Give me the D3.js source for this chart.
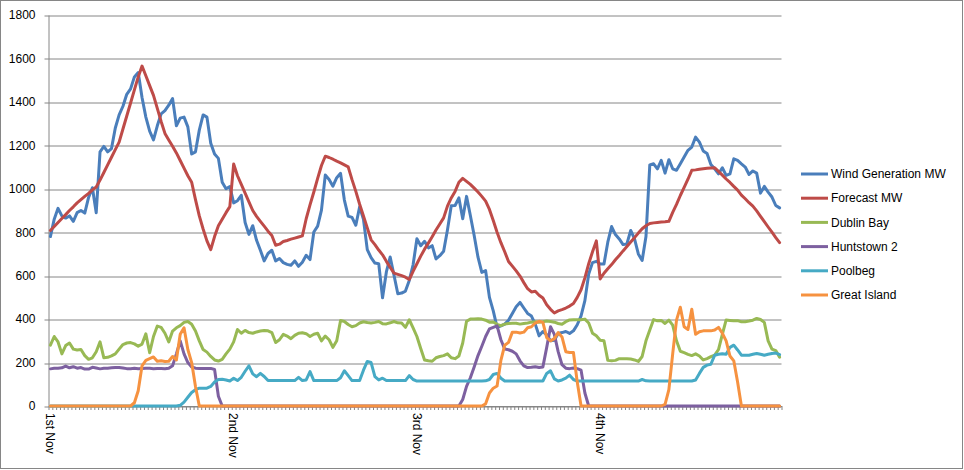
<!DOCTYPE html>
<html>
<head>
<meta charset="utf-8">
<script src="https://cdn.jsdelivr.net/npm/d3@7"></script>
<style>
  body { margin: 0; background: #fff; }
  .chart-container text { font-family: 'Liberation Sans', Arial, sans-serif; font-size: 12px; fill: #000; }
</style>
</head>
<body>
<div class="chart-container"></div>
<script>
// Half-hourly readings, 1st Nov 00:00 to 4th Nov 23:30 (48 slots per day)
const slotsPerDay = 48;
const dayLabels = ['1st Nov', '2nd Nov', '3rd Nov', '4th Nov'];
const yTicks = [0, 200, 400, 600, 800, 1000, 1200, 1400, 1600, 1800];
const seriesNames = ['Wind Generation MW', 'Forecast MW', 'Dublin Bay', 'Huntstown 2', 'Poolbeg', 'Great Island'];

const windGeneration = [
  780, 860, 910, 875, 865, 875, 850, 890, 900, 888, 960, 1005,
  890, 1170, 1195, 1170, 1185, 1280, 1340, 1380, 1435, 1460, 1515, 1535,
  1420, 1330, 1265, 1225, 1290, 1345, 1360, 1385, 1415, 1290, 1325, 1330,
  1285, 1160, 1170, 1270, 1340, 1330, 1210, 1160, 1140, 1030, 1000, 1010,
  935, 945, 970, 845, 790, 830, 763, 717, 668, 702, 717, 668,
  679, 660, 652, 648, 668, 643, 662, 694, 674, 801, 828, 902,
  1063, 1043, 1012, 1051, 1071, 948, 874, 868, 832, 917, 860, 720,
  683, 658, 655, 498, 617, 686, 602, 517, 520, 529, 578, 650,
  770, 738, 758, 728, 738, 677, 692, 712, 810, 922, 923, 958,
  862, 965, 877, 785, 685, 615, 623, 500, 438, 362, 369, 377,
  395, 426, 457, 477, 451, 426, 414, 377, 323, 343, 328, 300,
  303, 334, 338, 343, 334, 346, 374, 415, 485, 608, 660, 666,
  654, 654, 754, 826, 789, 769, 743, 746, 808, 769, 700, 670,
  780, 1110, 1115, 1092, 1131, 1072, 1134, 1092, 1085, 1115, 1146, 1177,
  1192, 1238, 1215, 1174, 1162, 1112, 1092, 1069, 1097, 1062, 1069, 1138,
  1131, 1115, 1100, 1066, 1082, 1072, 980, 1011, 985, 962, 923, 912
];

const forecastMW = [
  808, 826, 845, 863, 881, 900, 917, 935, 950, 965, 979, 995,
  1008, 1040, 1075, 1110, 1145, 1180, 1215, 1275, 1335, 1395, 1455, 1515,
  1565, 1520, 1475, 1430, 1370, 1310, 1255, 1225, 1196, 1165, 1130, 1095,
  1060, 1030, 950, 875, 815, 760, 720, 780, 830, 860, 890, 918,
  1114, 1060, 1020, 980, 940, 900, 873, 850, 828, 805, 785, 740,
  745, 757, 762, 768, 773, 778, 783, 862, 926, 985, 1048, 1107,
  1150, 1144, 1136, 1127, 1119, 1110, 1101, 1042, 988, 929, 875, 820,
  765, 743, 718, 696, 666, 638, 612, 606, 600, 593, 582, 620,
  655, 690, 722, 750, 779, 810, 838, 866, 920, 958, 988, 1030,
  1048, 1034, 1020, 1003, 985, 965, 943, 905, 854, 800, 752, 710,
  665, 644, 622, 598, 568, 540, 525, 528, 510, 497, 466, 445,
  428, 438, 444, 451, 460, 472, 500, 535, 590, 655, 710, 760,
  585, 611, 632, 651, 673, 693, 714, 734, 755, 775, 796, 816,
  830, 840, 843, 845, 847, 848, 850, 891, 928, 969, 1006, 1044,
  1085, 1087, 1090, 1092, 1094, 1096, 1097, 1080, 1063, 1045, 1029, 1011,
  994, 971, 954, 936, 920, 898, 873, 849, 824, 800, 775, 752
];

const dublinBay = [
  280, 320, 295, 240, 278, 290, 262, 258, 260, 232, 215, 222,
  250, 295, 222, 224, 231, 240, 262, 283, 290, 292, 286, 275,
  285, 332, 245, 320, 368, 362, 335, 295, 345, 360, 370, 385,
  389, 376, 345, 300, 260, 248, 228, 212, 207, 215, 240, 262,
  295, 352, 335, 348, 338, 335, 341, 345, 348, 346, 338, 292,
  305, 330, 322, 310, 325, 335, 337, 333, 320, 330, 335, 300,
  322, 305, 270, 300, 394, 389, 375, 365, 370, 382, 388, 384,
  382, 385, 389, 379, 378, 383, 389, 383, 382, 362, 397, 360,
  320, 265, 212, 208, 206, 222, 228, 232, 240, 222, 218, 230,
  290, 390, 400, 400, 402, 400, 395, 386, 387, 376, 370, 377,
  380, 381, 381, 377, 380, 382, 386, 388, 386, 388, 391, 389,
  386, 380, 376, 388, 396, 397, 397, 397, 400, 382, 335, 323,
  303, 300, 210, 208, 210, 218, 218, 218, 216, 212, 205, 228,
  300, 350, 398, 392, 394, 380, 395, 372, 300, 252, 246, 238,
  232, 240, 230, 212, 218, 227, 234, 260, 330, 396, 394, 392,
  393, 388, 388, 391, 395, 403, 398, 385, 300, 262, 255, 225
];

const huntstown2 = [
  171, 174, 174, 176, 184, 176, 181, 174, 177, 170, 170, 178,
  175, 171, 174, 174, 176, 177, 177, 175, 172, 172, 174, 172,
  173, 174, 174, 172, 173, 173, 172, 174, 185, 240, 300, 240,
  200, 180, 174, 173, 173, 173, 173, 168, 45, 0, 0, 0,
  0, 0, 0, 0, 0, 0, 0, 0, 0, 0, 0, 0,
  0, 0, 0, 0, 0, 0, 0, 0, 0, 0, 0, 0,
  0, 0, 0, 0, 0, 0, 0, 0, 0, 0, 0, 0,
  0, 0, 0, 0, 0, 0, 0, 0, 0, 0, 0, 0,
  0, 0, 0, 0, 0, 0, 0, 0, 0, 0, 0, 0,
  30, 90, 130, 180, 232, 275, 320, 355, 362, 369, 305, 262,
  259, 252, 240, 208, 185, 177, 178, 181, 177, 180, 270, 365,
  330, 250, 190, 174, 172, 175, 172, 165, 60, 0, 0, 0,
  0, 0, 0, 0, 0, 0, 0, 0, 0, 0, 0, 0,
  0, 0, 0, 0, 0, 0, 0, 0, 0, 0, 0, 0,
  0, 0, 0, 0, 0, 0, 0, 0, 0, 0, 0, 0,
  0, 0, 0, 0, 0, 0, 0, 0, 0, 0, 0, 0
];

const poolbeg = [
  0, 0, 0, 0, 0, 0, 0, 0, 0, 0, 0, 0,
  0, 0, 0, 0, 0, 0, 0, 0, 0, 0, 0, 0,
  0, 0, 0, 0, 0, 0, 0, 0, 0, 0, 3, 18,
  40, 62, 75, 82, 82, 82, 90, 110, 122, 123, 120, 115,
  128, 117, 132, 160, 185, 148, 135, 150, 136, 117, 117, 117,
  117, 117, 117, 117, 117, 132, 117, 120, 158, 117, 117, 117,
  117, 117, 117, 117, 130, 162, 140, 117, 117, 117, 165, 205,
  200, 135, 120, 128, 117, 117, 117, 117, 117, 117, 140, 122,
  115, 115, 115, 115, 115, 115, 115, 115, 115, 115, 115, 115,
  115, 115, 115, 115, 115, 115, 116, 122, 145, 150, 128, 115,
  115, 115, 115, 115, 115, 115, 115, 115, 115, 115, 150, 162,
  125, 115, 120, 128, 142, 122, 115, 115, 115, 115, 115, 115,
  115, 115, 115, 115, 115, 115, 115, 115, 115, 115, 115, 122,
  116, 115, 115, 115, 115, 115, 115, 115, 115, 115, 115, 115,
  115, 120, 150, 178, 188, 192, 234, 238, 241, 238, 270, 280,
  258, 234, 234, 234, 238, 242, 238, 234, 238, 242, 244, 236
];

const greatIsland = [
  0, 0, 0, 0, 0, 0, 0, 0, 0, 0, 0, 0,
  0, 0, 0, 0, 0, 0, 0, 0, 0, 0, 15, 70,
  185, 210, 218, 226, 206, 208, 205, 206, 228, 212, 330, 360,
  260, 200, 90, 0, 0, 0, 0, 0, 0, 0, 0, 0,
  0, 0, 0, 0, 0, 0, 0, 0, 0, 0, 0, 0,
  0, 0, 0, 0, 0, 0, 0, 0, 0, 0, 0, 0,
  0, 0, 0, 0, 0, 0, 0, 0, 0, 0, 0, 0,
  0, 0, 0, 0, 0, 0, 0, 0, 0, 0, 0, 0,
  0, 0, 0, 0, 0, 0, 0, 0, 0, 0, 0, 0,
  0, 0, 0, 0, 0, 0, 10, 60, 82, 92, 210, 280,
  293, 340, 340, 336, 340, 360, 365, 382, 390, 385, 315, 300,
  310, 338, 318, 250, 246, 246, 110, 0, 0, 0, 0, 0,
  0, 0, 0, 0, 0, 0, 0, 0, 0, 0, 0, 0,
  0, 0, 0, 0, 0, 8, 75, 240, 395, 455, 365, 352,
  445, 330, 342, 346, 346, 346, 350, 362, 335, 300, 230, 208,
  110, 0, 0, 0, 0, 0, 0, 0, 0, 0, 0, 0
];

const seriesData = [windGeneration, forecastMW, dublinBay, huntstown2, poolbeg, greatIsland];
const colors = ['#4A7EBB', '#BE4B48', '#98B954', '#7D60A0', '#46AAC5', '#F69240'];

// Layout
const totalWidth = 964;
const totalHeight = 470;
const plot = { left: 48.5, right: 781.5, top: 15, bottom: 406 };
const gridColor = '#868686';
const nSlots = windGeneration.length;

const svg = d3.select('.chart-container')
    .append('svg')
    .attr('width', totalWidth)
    .attr('height', totalHeight);

// Chart border
svg.append('rect')
    .attr('x', 0.5)
    .attr('y', 0.5)
    .attr('width', totalWidth - 2)
    .attr('height', totalHeight - 2)
    .attr('fill', '#fff')
    .attr('stroke', gridColor);

// Scales: x runs over category boundaries, points sit in the middle of each slot
const xScale = d3.scaleLinear()
    .domain([0, nSlots])
    .range([plot.left, plot.right]);

const yScale = d3.scaleLinear()
    .domain([0, 1800])
    .range([plot.bottom, plot.top]);

// Y axis with gridlines
const yAxis = d3.axisLeft(yScale)
    .tickValues(yTicks)
    .tickSizeInner(-(plot.right - plot.left))
    .tickSizeOuter(0)
    .tickPadding(13)
    .tickFormat(d3.format('d'));

const yAxisDraw = svg.append('g')
    .attr('class', 'y axis')
    .attr('transform', `translate(${plot.left}, 0)`)
    .call(yAxis);

yAxisDraw.select('.domain').attr('stroke', gridColor);
yAxisDraw.selectAll('.tick line')
    .attr('stroke', gridColor)
    .attr('x1', -4)
    .attr('transform', d => `translate(0, ${Math.round(yScale(d)) + 0.5 - yScale(d)})`);
yAxisDraw.selectAll('.tick text')
    .style('font-size', '12px');

// X axis: a tick at every half-hour boundary
const xAxis = d3.axisBottom(xScale)
    .tickValues(d3.range(nSlots + 1))
    .tickSizeInner(4)
    .tickSizeOuter(0)
    .tickFormat('');

const xAxisDraw = svg.append('g')
    .attr('class', 'x axis')
    .attr('transform', `translate(0, ${plot.bottom})`)
    .call(xAxis);

xAxisDraw.select('.domain').attr('stroke', gridColor);
xAxisDraw.selectAll('.tick line').attr('stroke', gridColor);

// Day labels, rotated
svg.append('g')
    .attr('class', 'day-labels')
    .selectAll('text')
    .data(dayLabels)
    .join('text')
    .attr('transform', (d, i) => `translate(${xScale(i * slotsPerDay + 0.5)}, ${plot.bottom + 7}) rotate(90)`)
    .attr('dy', '0.35em')
    .attr('text-anchor', 'start')
    .text(d => d);

// Lines
const line = d3.line()
    .x((d, i) => xScale(i + 0.5))
    .y(d => yScale(d));

svg.append('g')
    .attr('class', 'series')
    .selectAll('path')
    .data(seriesData)
    .join('path')
    .attr('d', d => line(d))
    .attr('fill', 'none')
    .attr('stroke', (d, i) => colors[i])
    .attr('stroke-width', 3)
    .attr('stroke-linejoin', 'round')
    .attr('stroke-linecap', 'round');

// Legend
const legend = svg.append('g')
    .attr('class', 'legend')
    .attr('transform', 'translate(801, 174)');

const legendItems = legend.selectAll('g')
    .data(seriesNames)
    .join('g')
    .attr('transform', (d, i) => `translate(0, ${i * 24.2})`);

legendItems.append('line')
    .attr('x1', 0)
    .attr('x2', 27)
    .attr('stroke', (d, i) => colors[i])
    .attr('stroke-width', 3);

legendItems.append('text')
    .attr('x', 30)
    .attr('dy', '0.35em')
    .text(d => d);
</script>
</body>
</html>
